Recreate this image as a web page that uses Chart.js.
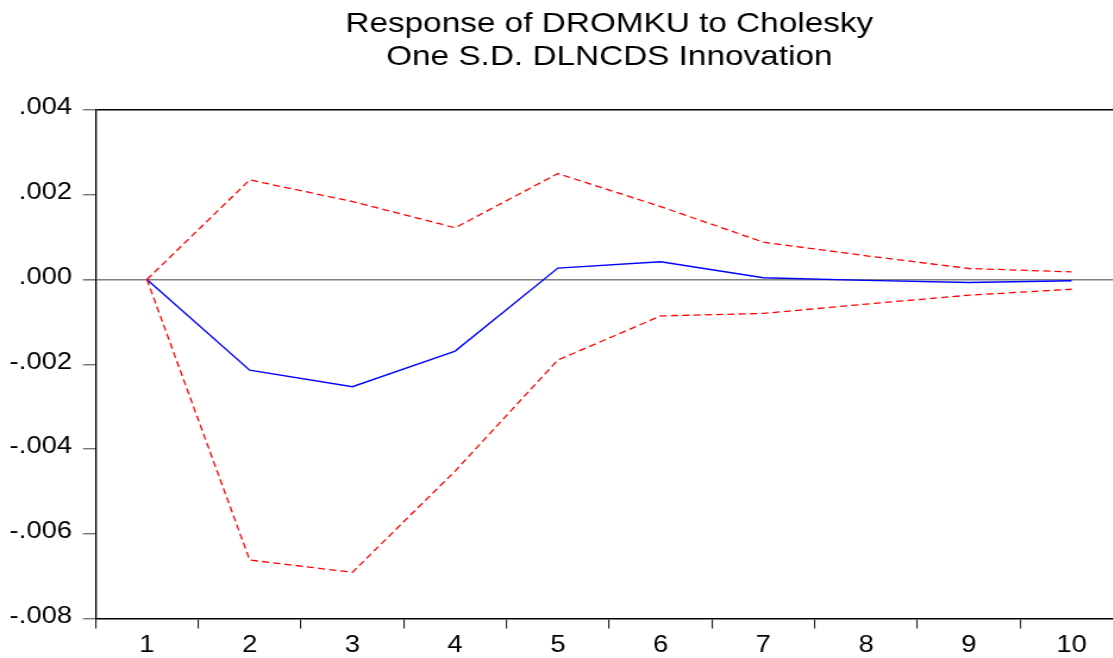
<!DOCTYPE html>
<html>
<head>
<meta charset="utf-8">
<script src="https://cdn.jsdelivr.net/npm/chart.js@4.4.1/dist/chart.umd.min.js"></script>
<style>
  html, body { margin: 0; padding: 0; background: #fff; overflow: hidden; }
  /* the graph is drawn narrow and stretched sideways, like the EViews export */
  #wrap { width: 945px; height: 658px; transform: scaleX(1.19); transform-origin: 0 0; }
</style>
</head>
<body>
<div id="wrap"><canvas id="irf"></canvas></div>
<script>
// impulse response periods
const periods = ['1', '2', '3', '4', '5', '6', '7', '8', '9', '10'];

// response of DROMKU
const response = [0, -0.00214, -0.00253, -0.00169, 0.00027, 0.00042, 0.00004, -0.00002, -0.00007, -0.00003];

// +/- 2 S.E. bands
const upperBand = [0, 0.00235, 0.00184, 0.00122, 0.0025, 0.00172, 0.00088, 0.00056, 0.00026, 0.00018];
const lowerBand = [0, -0.00662, -0.00691, -0.00452, -0.0019, -0.00086, -0.0008, -0.00058, -0.00037, -0.00023];

const titleLines = ['Response of DROMKU to Cholesky', 'One S.D. DLNCDS Innovation'];

function fmtTick(v) {
  if (Math.abs(v) < 1e-9) return '.000';
  return v.toFixed(3).replace('0.', '.');
}

// title centred over the plot area instead of the whole canvas
const plotTitle = {
  id: 'plotTitle',
  afterDraw(chart) {
    const { ctx, chartArea } = chart;
    const cx = (chartArea.left + chartArea.right) / 2;
    ctx.save();
    ctx.fillStyle = '#000';
    ctx.font = '28px "Liberation Sans", Arial, sans-serif';
    ctx.textAlign = 'center';
    ctx.textBaseline = 'alphabetic';
    ctx.fillText(titleLines[0], cx, 31.5);
    ctx.fillText(titleLines[1], cx, 64.5);
    ctx.restore();
  }
};

const tickFont = { family: '"Liberation Sans", Arial, sans-serif', size: 23 };

new Chart(document.getElementById('irf'), {
  type: 'line',
  data: {
    labels: periods,
    datasets: [
      {
        data: upperBand,
        borderColor: '#ff0000',
        borderWidth: 1.3,
        borderDash: [6, 3.5],
        pointRadius: 0,
        tension: 0
      },
      {
        data: lowerBand,
        borderColor: '#ff0000',
        borderWidth: 1.3,
        borderDash: [6, 3.5],
        pointRadius: 0,
        tension: 0
      },
      {
        data: response,
        borderColor: '#0000ff',
        borderWidth: 1.4,
        pointRadius: 0,
        tension: 0
      }
    ]
  },
  options: {
    responsive: true,
    maintainAspectRatio: false,
    animation: false,
    layout: { padding: { top: 110, right: 1.3, bottom: 0, left: 0 } },
    plugins: {
      legend: { display: false },
      title: { display: false },
      tooltip: { enabled: false }
    },
    scales: {
      x: {
        offset: true,
        border: { color: '#000', width: 1.5 },
        grid: {
          offset: true,
          drawOnChartArea: false,
          tickLength: 10,
          tickColor: '#222',
          lineWidth: 1.1
        },
        ticks: { color: '#000', font: tickFont, padding: 3, maxRotation: 0 },
        afterFit(scale) { scale.height = 39.5; }
      },
      y: {
        min: -0.008,
        max: 0.004,
        border: { color: '#000', width: 1.3 },
        grid: {
          drawOnChartArea: true,
          color(ctx) {
            const v = ctx.tick ? ctx.tick.value : NaN;
            if (Math.abs(v) < 1e-9) return '#808080';
            if (Math.abs(v - 0.004) < 1e-9) return '#000';
            return 'rgba(0,0,0,0)';
          },
          lineWidth(ctx) {
            const v = ctx.tick ? ctx.tick.value : NaN;
            return Math.abs(v) < 1e-9 ? 1.6 : 1.4;
          },
          tickColor: '#777',
          tickLength: 10.6
        },
        ticks: {
          stepSize: 0.002,
          color: '#000',
          font: tickFont,
          padding: 9.2,
          labelOffset: -2,
          callback: (v) => fmtTick(v)
        },
        afterFit(scale) { scale.width = 80.3; }
      }
    }
  },
  plugins: [plotTitle]
});
</script>
</body>
</html>
